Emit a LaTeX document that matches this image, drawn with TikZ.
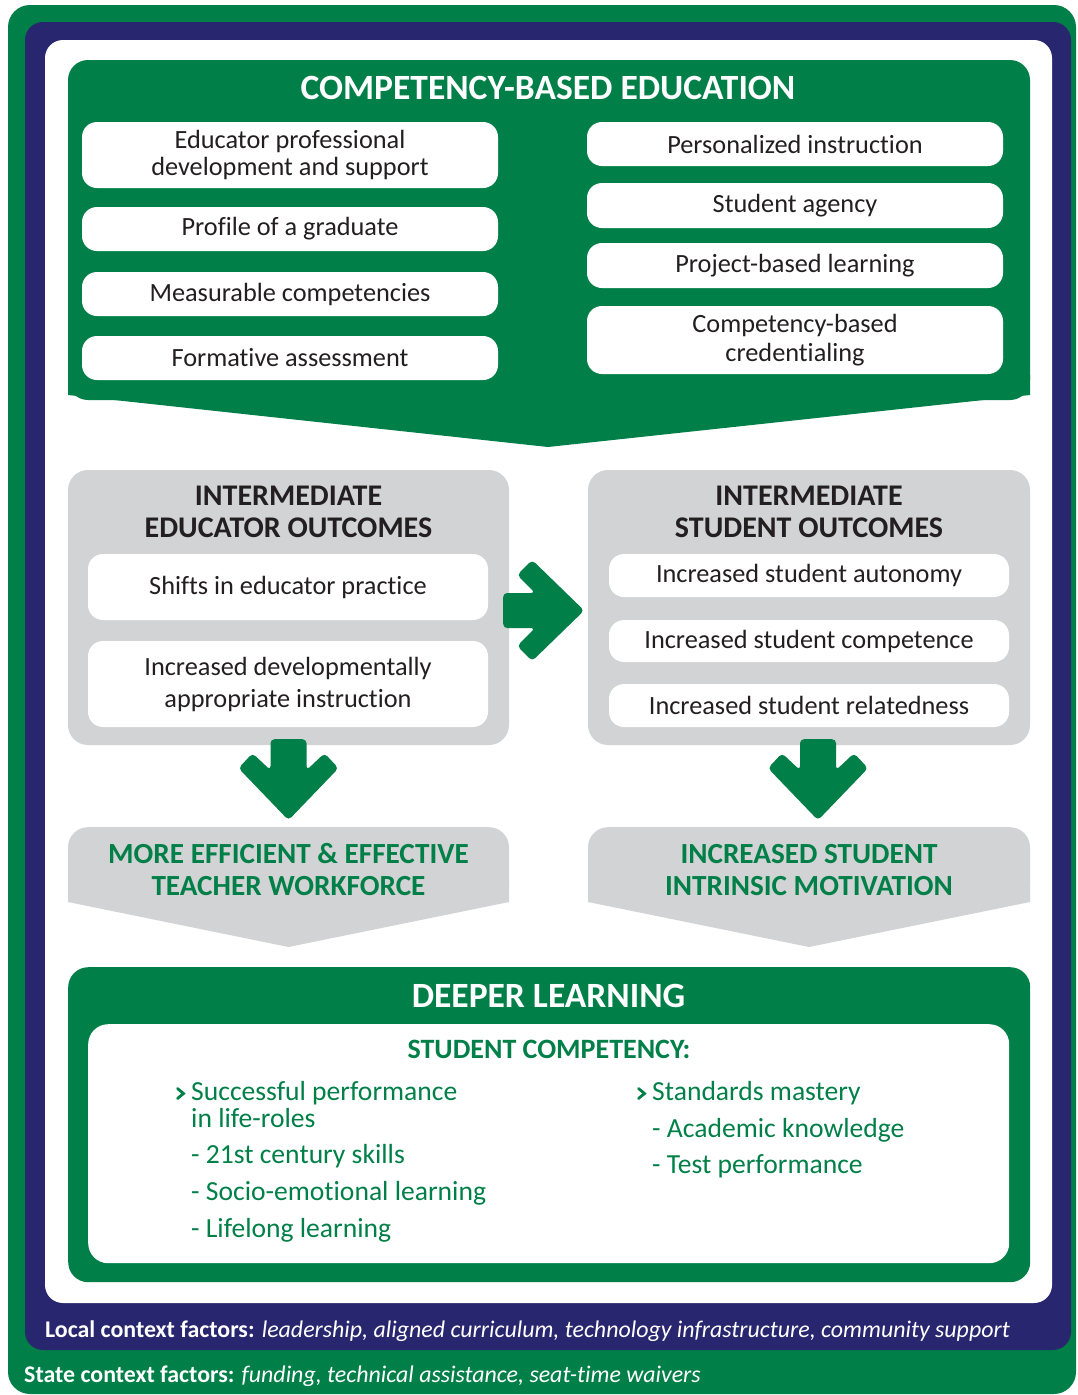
\documentclass[tikz,border=0pt]{standalone}
\usepackage{fontspec}
\setmainfont[Ligatures=NoCommon]{Carlito}
\definecolor{cgreen}{RGB}{0,128,72}
\definecolor{cnavy}{RGB}{40,38,110}
\definecolor{cgray}{RGB}{209,211,212}
\definecolor{ctext}{RGB}{35,31,32}
\begin{document}
\begin{tikzpicture}[x=1pt,y=1pt,
  wbox/.style={fill=white, rounded corners=15, text=ctext, font=\fontsize{26.3}{27}\selectfont, align=center, inner sep=0pt},
  gbox/.style={fill=cgray, rounded corners=20, inner sep=0pt},
  bigtitle/.style={font=\fontsize{35.5}{38}\selectfont\bfseries, text=white, anchor=base, inner sep=0pt},
  midtitle/.style={font=\fontsize{30}{32}\selectfont\bfseries, text=ctext, align=center, inner sep=0pt},
  restitle/.style={font=\fontsize{29.2}{32}\selectfont\bfseries, text=cgreen, align=center, inner sep=0pt},
  listitem/.style={font=\fontsize{27.6}{29}\selectfont, text=cgreen, anchor=base west, inner sep=0pt},
  foot/.style={font=\fontsize{23.9}{25}\selectfont, text=white, anchor=base west, inner sep=0pt},
  arrowfill/.style={fill=cgreen, rounded corners=4},
  bulletmark/.style={draw=cgreen, line width=2.8pt, line cap=round, line join=miter},
  ]
\useasboundingbox (0,0) rectangle (1078,-1395);
% frames
\fill[cgreen, rounded corners=22] (8,-5) rectangle (1076,-1394);
\fill[cnavy, rounded corners=18] (25,-22) rectangle (1071,-1350);
\fill[white, rounded corners=18] (45,-40) rectangle (1052,-1303);

% competency-based education
\fill[cgreen, rounded corners=20] (68,-60) rectangle (1030,-400);
\fill[cgreen] (68,-375) -- (1030,-375) -- (1030,-395) -- (548,-447) -- (68,-395) -- cycle;
\node[bigtitle] (cbe) at (548,-99) {COMPETENCY-BASED EDUCATION};

\node[wbox, minimum width=416, minimum height=66] (l1) at (290,-155) {Educator professional\\development and support};
\node[wbox, minimum width=416, minimum height=44] (l2) at (290,-229) {Profile of a graduate};
\node[wbox, minimum width=416, minimum height=44] (l3) at (290,-294) {Measurable competencies};
\node[wbox, minimum width=416, minimum height=44] (l4) at (290,-358) {Formative assessment};

\node[wbox, minimum width=416, minimum height=44] (r1) at (795,-144) {Personalized instruction};
\node[wbox, minimum width=416, minimum height=45] (r2) at (795,-205.5) {Student agency};
\node[wbox, minimum width=416, minimum height=45] (r3) at (795,-265.5) {Project-based learning};
\node[wbox, minimum width=416, minimum height=68, font=\fontsize{26.3}{29}\selectfont] (r4) at (795,-340) {Competency-based\\credentialing};

% intermediate outcomes
\node[gbox, minimum width=441, minimum height=275] (edu) at (288.5,-607.5) {};
\node[midtitle] (edut) at (288.5,-512) {INTERMEDIATE\\EDUCATOR OUTCOMES};
\node[wbox, minimum width=400, minimum height=66] (e1) at (288,-587) {Shifts in educator practice};
\node[wbox, minimum width=400, minimum height=86, font=\fontsize{26.3}{32}\selectfont] (e2) at (288,-684) {Increased developmentally\\appropriate instruction};

\node[gbox, minimum width=442, minimum height=275] (stu) at (809,-607.5) {};
\node[midtitle] (stut) at (809,-512) {INTERMEDIATE\\STUDENT OUTCOMES};
\node[wbox, minimum width=400, minimum height=43] (s1) at (809,-575.5) {Increased student autonomy};
\node[wbox, minimum width=400, minimum height=42] (s2) at (809,-641) {Increased student competence};
\node[wbox, minimum width=400, minimum height=43] (s3) at (809,-705.5) {Increased student relatedness};

% block arrows
\fill[arrowfill, shift={([yshift=-3pt]edu.east)}] (-6,17.5) -- (26,17.5) -- (8,35.5) -- (23,50.5) -- (75,0) -- (23,-50.5) -- (8,-35.5) -- (26,-17.5) -- (-6,-17.5) -- cycle;
\fill[arrowfill, shift={(edu.south)}] (-18,6) -- (18,6) -- (18,-25) -- (36,-8) -- (50,-23) -- (0,-75) -- (-50,-23) -- (-36,-8) -- (-18,-25) -- cycle;
\fill[arrowfill, shift={([xshift=9pt]stu.south)}] (-18,6) -- (18,6) -- (18,-25) -- (36,-8) -- (50,-23) -- (0,-75) -- (-50,-23) -- (-36,-8) -- (-18,-25) -- cycle;

% results
\node[gbox, minimum width=441, minimum height=75, anchor=north] (res1) at (288.5,-827) {};
\fill[cgray] (68,-880) -- (509,-880) -- (509,-902) -- (288.5,-947) -- (68,-902) -- cycle;
\node[restitle] (res1t) at (288.5,-870) {MORE EFFICIENT \& EFFECTIVE\\TEACHER WORKFORCE};
\node[gbox, minimum width=442, minimum height=75, anchor=north] (res2) at (809,-827) {};
\fill[cgray] (588,-880) -- (1030,-880) -- (1030,-902) -- (809,-947) -- (588,-902) -- cycle;
\node[restitle] (res2t) at (809,-870) {INCREASED STUDENT\\INTRINSIC MOTIVATION};

% deeper learning
\node[fill=cgreen, rounded corners=20, minimum width=962, minimum height=315, anchor=north west, inner sep=0pt] (dl) at (68,-967) {};
\node[bigtitle] (dlt) at (548.5,-1007) {DEEPER LEARNING};
\node[fill=white, rounded corners=20, minimum width=921, minimum height=239, anchor=north west, inner sep=0pt] (dlw) at (88,-1024) {};
\node[font=\fontsize{28}{30}\selectfont\bfseries, text=cgreen, anchor=base, inner sep=0pt] (sc) at (549,-1058) {STUDENT COMPETENCY:};

\node[listitem] (i1a) at (191,-1100) {Successful performance};
\node[listitem] (i1b) at (191,-1127) {in life-roles};
\node[listitem] (i1c) at (191,-1163) {- 21st century skills};
\node[listitem] (i1d) at (191,-1200) {- Socio-emotional learning};
\node[listitem] (i1e) at (191,-1237) {- Lifelong learning};
\node[listitem] (i2a) at (652,-1100) {Standards mastery};
\node[listitem] (i2b) at (652,-1137) {- Academic knowledge};
\node[listitem] (i2c) at (652,-1173) {- Test performance};
\draw[bulletmark] ([xshift=-13.5pt,yshift=11.5pt]i1a.base west) -- ++(6,-5) -- ++(-6,-5);
\draw[bulletmark] ([xshift=-13.5pt,yshift=11.5pt]i2a.base west) -- ++(6,-5) -- ++(-6,-5);

% context factors
\node[foot] (loc) at (45,-1337) {\textbf{Local context factors:} \textit{leadership, aligned curriculum, technology infrastructure, community support}};
\node[foot] (state) at (24,-1382) {\textbf{State context factors:} \textit{funding, technical assistance, seat-time waivers}};
\end{tikzpicture}
\end{document}
